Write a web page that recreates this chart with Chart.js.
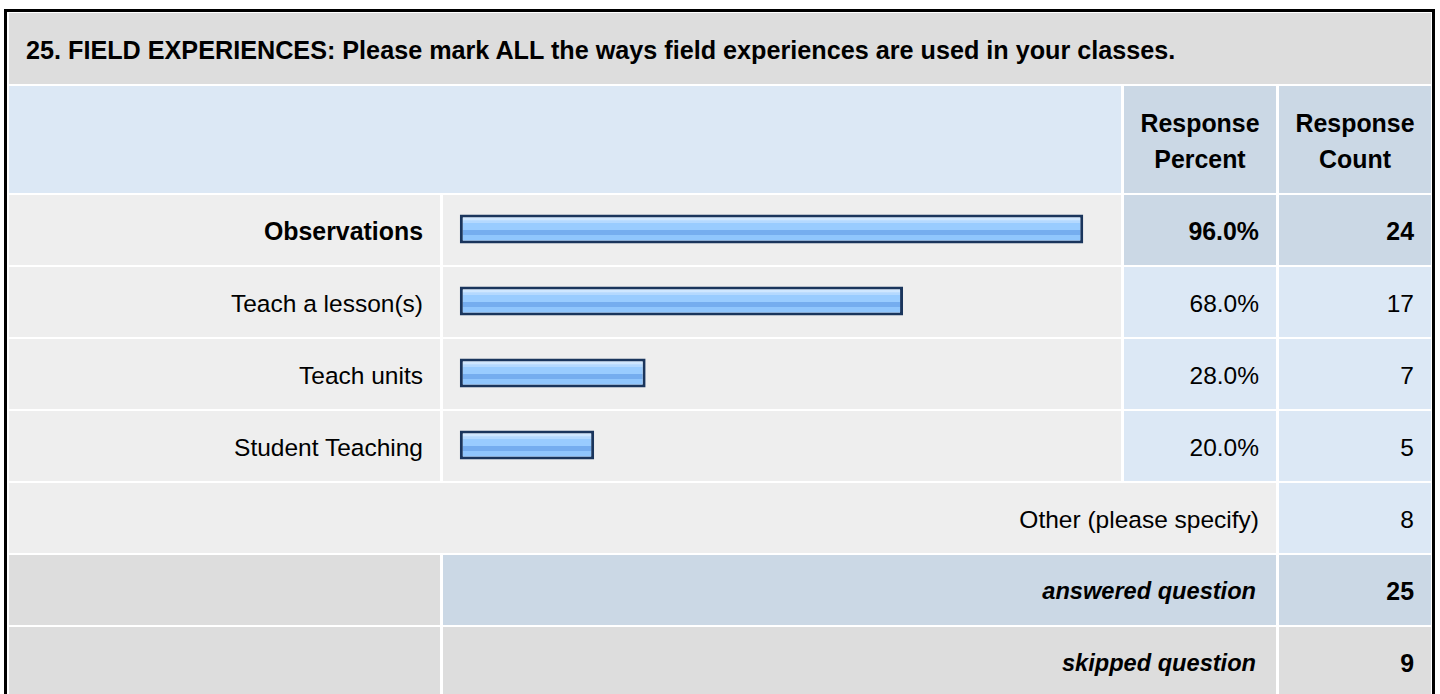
<!DOCTYPE html>
<html>
<head>
<meta charset="utf-8">
<script src="https://cdn.jsdelivr.net/npm/chart.js@4.4.0/dist/chart.umd.min.js"></script>
<style>
  html, body { margin: 0; padding: 0; background: #fff; width: 1440px; height: 694px; overflow: hidden; }
  body { font-family: "Liberation Sans", Arial, sans-serif; font-size: 24.5px; color: #000; position: relative; }
  #frame { position: absolute; left: 4px; top: 9px; width: 1431px; height: 700px; box-sizing: border-box;
           border: 3px solid #000; border-bottom: none; }
  #tbl { position: absolute; left: 9px; top: 13px; display: grid;
         grid-template-columns: 431px 678px 152px 152px; column-gap: 3px; row-gap: 2px;
         grid-template-rows: 71px 107px repeat(7, 70px); }
  .c { display: flex; align-items: center; box-sizing: border-box; padding: 0 17px; white-space: nowrap; }
  .r { justify-content: flex-end; }
  .ctr { justify-content: center; text-align: center; }
  .b { font-weight: bold; font-size: 24.9px; }
  .bi { font-weight: bold; font-style: italic; font-size: 23.6px; padding-right: 20px; }
  .g1 { background: #dddddd; }
  .g2 { background: #eeeeee; }
  .lb { background: #dce8f5; }
  .db { background: #cbd8e5; }
  #title { grid-column: 1 / 5; padding-left: 17px; padding-top: 4px; font-size: 25.2px; }
  .hdr { line-height: 36px; padding-top: 3px; }
  .t2 { padding-top: 3px; }
  #chartBox { position: absolute; left: 459px; top: 193px; width: 650px; height: 288px; }
</style>
</head>
<body>
<div id="frame"></div>
<div id="tbl"></div>
<div id="chartBox"><canvas id="chart" width="650" height="288"></canvas></div>
<script>
const questionTitle = "25. FIELD EXPERIENCES: Please mark ALL the ways field experiences are used in your classes.";
const headerLabels = ["Response Percent", "Response Count"];
const categories = ["Observations", "Teach a lesson(s)", "Teach units", "Student Teaching"];
const percents = [96.0, 68.0, 28.0, 20.0];
const counts = [24, 17, 7, 5];
const otherLabel = "Other (please specify)";
const otherCount = 8;
const summaryLabels = ["answered question", "skipped question"];
const summaryCounts = [25, 9];

const tbl = document.getElementById('tbl');
function cell(cls, text, style) {
  const d = document.createElement('div');
  d.className = 'c ' + cls;
  if (text !== undefined) d.innerHTML = text;
  if (style) d.setAttribute('style', style);
  tbl.appendChild(d);
  return d;
}
// title
const t = cell('b g1', questionTitle); t.id = 'title';
// header
cell('lb', '', 'grid-column: 1 / 3;');
headerLabels.forEach(h => { cell('db b ctr hdr', h.replace(' ', '<br>')); });
// data rows
const maxP = Math.max(...percents);
categories.forEach((cat, i) => {
  const top = percents[i] === maxP;
  cell('g2 r t2' + (top ? ' b' : ''), cat);
  cell('g2', '');
  cell((top ? 'db b' : 'lb') + ' r t2', percents[i].toFixed(1) + '%');
  cell((top ? 'db b' : 'lb') + ' r t2', String(counts[i]));
});
// other
cell('g2 r t2', otherLabel, 'grid-column: 1 / 4;');
cell('lb r t2', String(otherCount));
// summary
cell('g1', '');
cell('db bi r t2', summaryLabels[0], 'grid-column: 2 / 4;');
cell('db b r t2', String(summaryCounts[0]));
cell('g1', '');
cell('g1 bi r t2', summaryLabels[1], 'grid-column: 2 / 4;');
cell('g1 b r t2', String(summaryCounts[1]));

// bars
const BAR_T = 29;
function barFill(c) {
  const ch = c.chart;
  if (!ch.chartArea || !ch.scales.y) return '#99ccff';
  const yc = ch.scales.y.getPixelForValue(c.dataIndex);
  const y0 = yc - BAR_T / 2;
  const g = ch.ctx.createLinearGradient(0, y0, 0, y0 + BAR_T);
  g.addColorStop(0.00, '#cfe7ff');
  g.addColorStop(0.20, '#cfe7ff');
  g.addColorStop(0.21, '#b4d9ff');
  g.addColorStop(0.30, '#b4d9ff');
  g.addColorStop(0.31, '#99ccff');
  g.addColorStop(0.54, '#99ccff');
  g.addColorStop(0.55, '#75adef');
  g.addColorStop(0.70, '#75adef');
  g.addColorStop(0.71, '#90c6fd');
  g.addColorStop(1.00, '#90c6fd');
  return g;
}

new Chart(document.getElementById('chart'), {
  type: 'bar',
  data: {
    labels: categories,
    datasets: [{
      data: percents,
      base: -0.87,
      backgroundColor: barFill,
      borderColor: '#1a355c',
      borderWidth: 3,
      borderSkipped: false,
      barThickness: BAR_T,
      inflateAmount: 0
    }]
  },
  options: {
    indexAxis: 'y',
    responsive: false,
    animation: false,
    devicePixelRatio: 1,
    layout: { padding: 0 },
    plugins: { legend: { display: false }, tooltip: { enabled: false } },
    scales: {
      x: { display: false, min: -1, max: 100 },
      y: { display: false }
    }
  }
});
</script>
</body>
</html>
